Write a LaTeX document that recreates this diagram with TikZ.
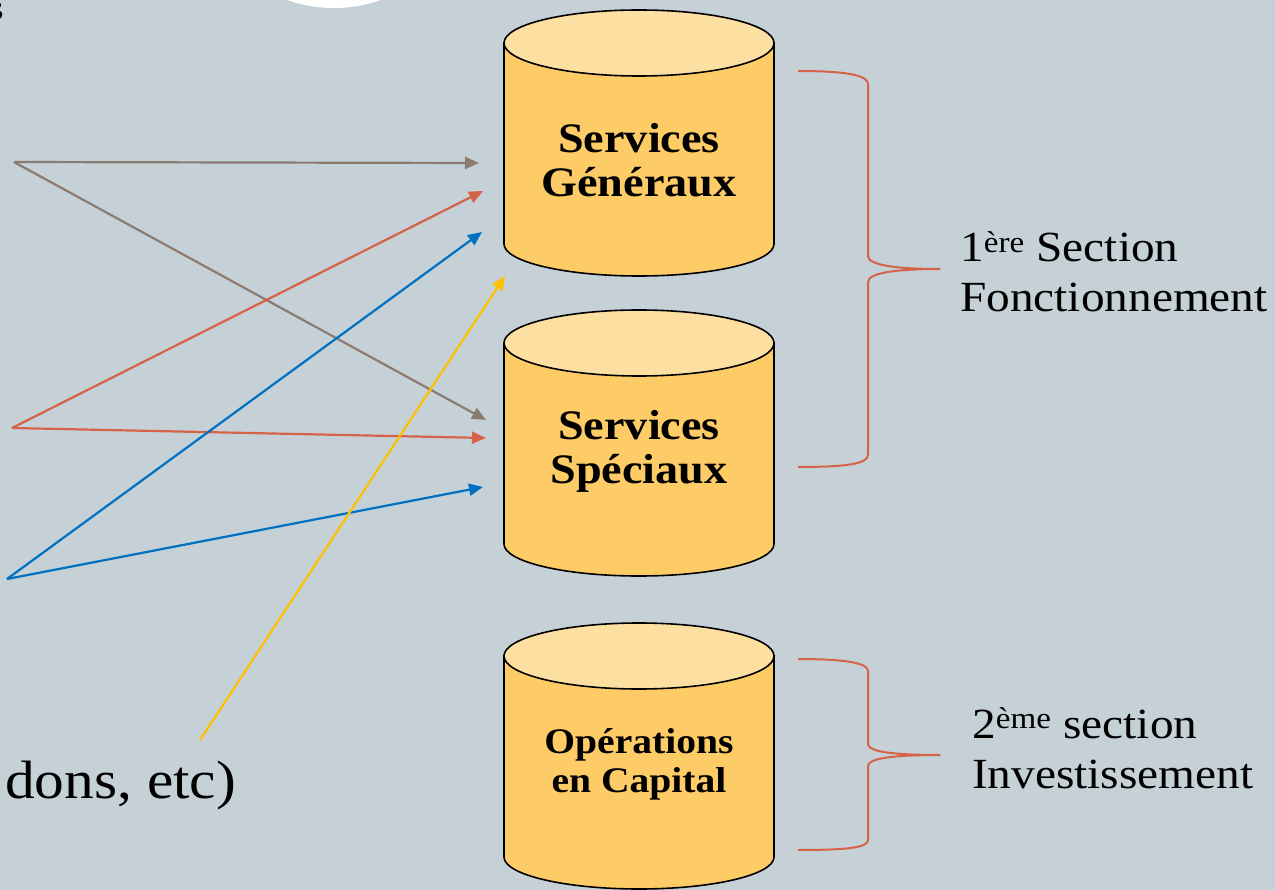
\documentclass[tikz,border=0pt]{standalone}
\usepackage{fontspec}
\setmainfont[FakeStretch=1.1]{Liberation Serif}
\usetikzlibrary{arrows.meta}
\definecolor{bg}{RGB}{197,208,215}
\definecolor{cylbody}{RGB}{254,204,102}
\definecolor{cyltop}{RGB}{253,224,161}
\definecolor{grayarr}{RGB}{138,124,113}
\definecolor{orangearr}{RGB}{214,99,72}
\definecolor{bluearr}{RGB}{0,112,192}
\definecolor{yellowarr}{RGB}{255,192,0}
\tikzset{
  arr/.style={line width=2.2pt, -{Triangle[length=14pt,width=12pt]}},
  bracestyle/.style={draw=orangearr, line width=2pt},
  cylline/.style={draw=black, line width=1.6pt},
  cyltxt/.style={font=\fontsize{42}{46}\selectfont\bfseries, anchor=base, inner sep=0pt},
  cyltxtsmall/.style={font=\fontsize{36}{40}\selectfont\bfseries, anchor=base, inner sep=0pt},
  lbl/.style={font=\fontsize{43}{50}\selectfont, anchor=base west, inner sep=0pt},
}
\begin{document}
\begin{tikzpicture}[x=1pt,y=1pt]
\useasboundingbox (0,0) rectangle (1275,-890);
\clip (0,0) rectangle (1275,-890);
\fill[bg] (0,0) rectangle (1275,-890);
% partial white circle at top
\fill[white] (334,132) circle [radius=140];
% partial glyph at top-left
\node[font=\fontsize{34}{38}\selectfont, anchor=base east, inner sep=0pt] (cut) at (4,-20) {s};

% cylinders
\foreach \cx/\yt in {639/43, 639/343, 639/656} {
  \pgfmathsetmacro{\yb}{\yt+201}
  \path[fill=cylbody, cylline] (\cx-135,-\yt) -- (\cx-135,-\yb)
     arc[start angle=180, end angle=360, x radius=135, y radius=32]
     -- (\cx+135,-\yt) -- cycle;
  \path[fill=cyltop, cylline] (\cx,-\yt) ellipse [x radius=135, y radius=33];
}
\node[cyltxt] (sg1) at (639,-153) {Services};
\node[cyltxt] (sg2) at (639,-197) {Généraux};
\node[cyltxt] (ss1) at (639,-440) {Services};
\node[cyltxt] (ss2) at (639,-484) {Spéciaux};
\node[cyltxtsmall] (oc1) at (639,-753) {Opérations};
\node[cyltxtsmall] (oc2) at (639,-792) {en Capital};

% braces
\path[bracestyle] (798,-71) .. controls (845,-71) and (868,-75) .. (868,-84)
  -- (868,-256) .. controls (868,-265) and (895,-269) .. (940,-269);
\path[bracestyle] (940,-269) .. controls (895,-269) and (868,-273) .. (868,-282)
  -- (868,-455) .. controls (868,-464) and (845,-467) .. (798,-467);
\path[bracestyle] (798,-659) .. controls (845,-659) and (868,-663) .. (868,-671)
  -- (868,-744) .. controls (868,-752) and (895,-755) .. (940,-755);
\path[bracestyle] (940,-755) .. controls (895,-755) and (868,-758) .. (868,-766)
  -- (868,-840) .. controls (868,-848) and (845,-850) .. (798,-850);

% labels
\node[lbl] (s1a) at (960,-262) {1\textsuperscript{ère} Section};
\node[lbl] (s1b) at (960,-312) {Fonctionnement};
\node[lbl] (s2a) at (972,-738) {2\textsuperscript{ème} section};
\node[lbl] (s2b) at (972,-788) {Investissement};
\node[font=\fontsize{54}{60}\selectfont, anchor=base west, inner sep=0pt] (dons) at (5,-798) {dons, etc)};

% arrow endpoints
\coordinate (g0) at (14,-162);
\coordinate (o0) at (12,-428);
\coordinate (b0) at (7,-579);
\coordinate (y0) at (200,-740);
\coordinate (gA) at (479,-163);
\coordinate (gB) at (486,-420);
\coordinate (oA) at (483,-191);
\coordinate (oB) at (486,-438);
\coordinate (bA) at (482,-232);
\coordinate (bB) at (483,-487);
\coordinate (yA) at (505,-276);

\draw[arr, grayarr] (g0) -- (gA);
\draw[arr, grayarr] (g0) -- (gB);
\draw[arr, orangearr] (o0) -- (oA);
\draw[arr, orangearr] (o0) -- (oB);
\draw[arr, bluearr] (b0) -- (bA);
\draw[arr, bluearr] (b0) -- (bB);
\draw[arr, yellowarr] (y0) -- (yA);
\end{tikzpicture}
\end{document}
